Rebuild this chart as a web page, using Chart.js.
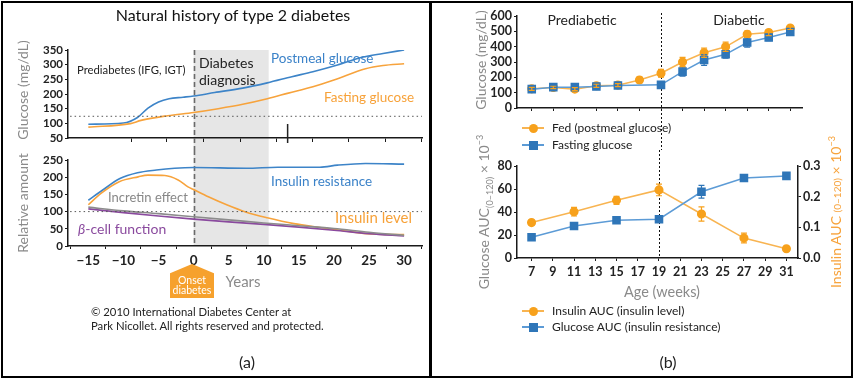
<!DOCTYPE html>
<html><head><meta charset="utf-8">
<script src="https://cdn.jsdelivr.net/npm/chart.js@4.4.1/dist/chart.umd.min.js"></script>
<style>
body{margin:0;width:857px;height:379px;position:relative;background:#fff;font-family:Lato,"Open Sans",sans-serif;overflow:hidden;color:#222}
canvas{position:absolute}
.t{position:absolute;white-space:nowrap;line-height:1}
.c{transform:translate(-50%,-50%)}
.l{transform:translateY(-50%)}
.r{transform:translate(-50%,-50%) rotate(-90deg)}
.box{position:absolute;border:2px solid #000;box-sizing:border-box}
sub,sup{font-size:65%;line-height:0}
</style></head><body>
<div class="box" style="left:1px;top:1px;width:430px;height:377px"></div>
<div class="box" style="left:430px;top:1px;width:423px;height:377px"></div>

<canvas id="cA1" width="430" height="150" style="left:0;top:0"></canvas>
<canvas id="cA2" width="430" height="120" style="left:0;top:150px"></canvas>
<canvas id="cB1" width="426" height="150" style="left:431px;top:0"></canvas>
<canvas id="cB2" width="426" height="135" style="left:431px;top:150px"></canvas>

<!-- Panel (a) texts -->
<div class="t c" style="left:233px;top:15px;font-size:16px;color:#111">Natural history of type 2 diabetes</div>
<div class="t r" style="left:23px;top:90px;font-size:14px;color:#8a8a8a">Glucose (mg/dL)</div>
<div class="t r" style="left:23px;top:203px;font-size:14px;color:#8a8a8a">Relative amount</div>
<div class="t l" style="left:77px;top:70px;font-size:11.3px;color:#222">Prediabetes (IFG, IGT)</div>
<div class="t l" style="left:199px;top:63px;font-size:14px;color:#222">Diabetes</div>
<div class="t l" style="left:199px;top:80px;font-size:14px;color:#222">diagnosis</div>
<div class="t l" style="left:271px;top:59px;font-size:13.5px;color:#3b82c8">Postmeal glucose</div>
<div class="t l" style="left:324px;top:98px;font-size:13.5px;color:#f7a23a">Fasting glucose</div>
<div class="t l" style="left:271px;top:182px;font-size:13.5px;color:#3b82c8">Insulin resistance</div>
<div class="t l" style="left:108px;top:197px;font-size:13px;color:#888">Incretin effect</div>
<div class="t l" style="left:335px;top:217px;font-size:15px;color:#f7a23a">Insulin level</div>
<div class="t l" style="left:78px;top:229px;font-size:14px;color:#8a4a9e"><i>β</i>-cell function</div>
<div style="position:absolute;left:170px;top:264px;width:44px;height:34px;background:#f6a12d;clip-path:polygon(50% 0,100% 27%,100% 100%,0 100%,0 27%)"></div>
<div class="t c" style="left:192px;top:280px;font-size:10.5px;color:#fff">Onset</div>
<div class="t c" style="left:192px;top:290px;font-size:10.5px;color:#fff">diabetes</div>
<div class="t c" style="left:243px;top:281px;font-size:15px;color:#8a8a8a">Years</div>
<div class="t l" style="left:91px;top:312px;font-size:11.3px;color:#222">© 2010 International Diabetes Center at</div>
<div class="t l" style="left:91px;top:326px;font-size:11.3px;color:#222">Park Nicollet. All rights reserved and protected.</div>
<div class="t c" style="left:247px;top:362px;font-size:16px;color:#222">(a)</div>

<!-- Panel (b) texts -->
<div class="t c" style="left:582px;top:20px;font-size:14px;color:#222">Prediabetic</div>
<div class="t c" style="left:739px;top:20px;font-size:14px;color:#222">Diabetic</div>
<div class="t r" style="left:481px;top:60px;font-size:14px;color:#8a8a8a">Glucose (mg/dL)</div>
<div class="t r" style="left:484px;top:212px;font-size:14px;color:#8a8a8a">Glucose AUC<sub>(0–120)</sub> × 10<sup>−3</sup></div>
<div class="t r" style="left:836px;top:212px;font-size:14px;color:#f7a23a">Insulin AUC <span style="font-size:10px">(0–120)</span> × 10<sup>−3</sup></div>
<div class="t c" style="left:662px;top:292px;font-size:14.5px;color:#8a8a8a">Age (weeks)</div>
<div class="t c" style="left:668px;top:362px;font-size:16px;color:#222">(b)</div>
<div id="legends"></div>

<script>
// ---------- DATA ----------
// Panel (a) top: glucose (mg/dL) vs years from diagnosis
const yearsPostmeal   = [-15, -10, -8, -6.5, -5, -3.5, -1.5, 0, 3, 7, 10.5, 14, 17, 20.5, 24, 27, 30];
const postmealGlucose = [97, 101, 120, 152, 173, 184, 189, 193, 205, 220, 238, 259, 276, 299, 325, 338, 350];
const yearsFasting    = [-15, -9, -7.5, -3.7, 0, 3.5, 7, 10.5, 13.5, 17, 20, 24.5, 27, 30];
const fastingGlucose  = [87, 99, 110, 126, 137, 150, 165, 184, 203, 225, 248, 286, 297, 303];
const glucoseThreshold = 124;
// Panel (a) bottom: relative amount
const yearsResistance = [-15, -13, -10.5, -8, -5.3, -2.7, 0, 7.5, 12, 18, 20.5, 24.5, 30];
const insulinResistance = [133, 162, 196, 213, 221, 226, 228, 226, 229, 229, 235, 240, 238];
const yearsInsulin    = [-15, -13.2, -10.6, -7.9, -6.5, -4.1, -2.2, -0.8, 0, 2.1, 4.8, 7.4, 10.5, 14.3, 18, 20.9, 24.7, 30];
const insulinLevel    = [120, 153, 187, 201, 206, 205, 192, 172, 164, 143, 119, 99, 82, 65, 54, 46, 36, 33];
const yearsDecline    = [-15, -10, -5, 0, 5, 10, 15, 20, 25, 30];
const incretinEffect  = [113, 102, 94, 85, 76, 67, 59, 51, 40, 31];
const betaCellFunction = [108, 97, 87, 78, 70, 63, 55, 46, 36, 29];
const relativeReference = 100;
const diagnosisStart = 0, diagnosisEnd = 10.7;
const yearLabels = [-15, -10, -5, 0, 5, 10, 15, 20, 25, 30];
const yearMinorTicks = [-17.5, -12.5, -7.5, -2.5, 2.5, 7.5, 12.5, 17.5, 22.5, 27.5, 32.5];
const yearTopTicks = [-8.9, -3.8, 1.4, 6.7, 11.8, 17, 22.1, 27.3, 32.5];
const markerYear = 13.4, markerTop = 98, markerBottom = 33;

// Panel (b) top: glucose vs age (weeks)
const weeksFed      = [7, 9, 11, 13, 15, 17, 19, 21, 23, 25, 27, 29, 31];
const fedGlucose    = [125, 134, 123, 145, 149, 183, 227, 300, 360, 399, 481, 492, 522];
const fedErr        = [10, 8, 10, 10, 10, 18, 25, 30, 30, 30, 20, 20, 10];
const weeksFasting  = [7, 9, 11, 13, 15, 19, 21, 23, 25, 27, 29, 31];
const fastingGlucoseB = [123, 136, 136, 140, 147, 151, 237, 313, 350, 427, 460, 496];
const fastingErr    = [8, 7, 7, 7, 7, 10, 30, 35, 25, 30, 20, 10];
// Panel (b) bottom: AUC
const weeksAUC      = [7, 11, 15, 19, 23, 27, 31];
const insulinAUC    = [0.1155, 0.151, 0.188, 0.222, 0.1435, 0.065, 0.030];
const insulinAUCErr = [0.004, 0.014, 0.013, 0.019, 0.023, 0.016, 0.004];
const glucoseAUC    = [18.1, 27.9, 32.8, 33.7, 57.6, 69.6, 71.4];
const glucoseAUCErr = [1.2, 1.5, 1.8, 2.5, 5.5, 3, 2.2];
const weekTicks = [7, 9, 11, 13, 15, 17, 19, 21, 23, 25, 27, 29, 31];
const onsetWeek = 19;

// ---------- STYLE ----------
const FONT = 'Lato, "Open Sans", sans-serif';
const BLUE = '#3d84c8', ORANGE = '#f7a33c', PURPLE = '#8a4a9e', GREYLINE = '#8c8c8c';
const BBLUE_LINE = '#5c9bd6', BBLUE = '#2f76b8', BORANGE_LINE = '#f8b451', BORANGE = '#f7a11c';
const AX = '#1a1a1a';
Chart.defaults.font.family = FONT;
Chart.defaults.animation = false;

const zip = (xs, ys) => xs.map((x, i) => ({x, y: ys[i]}));

const bandPlugin = {
  id: 'band',
  beforeDraw(chart, args, o) {
    if (o.from === undefined) return;
    const xs = chart.scales.x, ctx = chart.ctx, ca = chart.chartArea;
    const x0 = xs.getPixelForValue(o.from), x1 = xs.getPixelForValue(o.to);
    const top = o.extendTop ? 0 : ca.top, bottom = o.extendBottom ? chart.height : ca.bottom;
    ctx.save(); ctx.fillStyle = o.color; ctx.fillRect(x0, top, x1 - x0, bottom - top); ctx.restore();
  }
};
const vlinePlugin = {
  id: 'vline',
  beforeDatasetsDraw(chart, args, o) {
    if (o.at === undefined) return;
    const ctx = chart.ctx, ca = chart.chartArea;
    const x = Math.round(chart.scales.x.getPixelForValue(o.at)) + 0.5;
    const top = o.extendTop ? 0 : ca.top - (o.over || 0), bottom = o.extendBottom ? chart.height : ca.bottom;
    ctx.save(); ctx.strokeStyle = o.color; ctx.lineWidth = o.width; ctx.setLineDash(o.dash);
    ctx.beginPath(); ctx.moveTo(x, top); ctx.lineTo(x, bottom); ctx.stroke(); ctx.restore();
  }
};
const errPlugin = {
  id: 'errbars',
  afterDatasetsDraw(chart) {
    const ctx = chart.ctx;
    chart.data.datasets.forEach((ds, i) => {
      if (!ds.errorBars) return;
      const meta = chart.getDatasetMeta(i), ys = chart.scales[meta.yAxisID];
      ctx.save(); ctx.strokeStyle = ds.pointBackgroundColor; ctx.lineWidth = 1.2;
      meta.data.forEach((pt, j) => {
        const v = ds.data[j].y, e = ds.errorBars[j];
        const yt = ys.getPixelForValue(v + e), yb = ys.getPixelForValue(v - e), x = pt.x;
        ctx.beginPath();
        ctx.moveTo(x, yt); ctx.lineTo(x, yb);
        ctx.moveTo(x - 3, yt); ctx.lineTo(x + 3, yt);
        ctx.moveTo(x - 3, yb); ctx.lineTo(x + 3, yb);
        ctx.stroke();
      });
      ctx.restore();
    });
  }
};

function axis(extra) {
  const base = {
    grid: {drawOnChartArea: false, drawTicks: true, tickLength: 3, color: AX, lineWidth: 1},
    border: {display: true, color: AX, width: 1.5},
    ticks: {color: '#222', font: {size: 11.5, weight: 'bold'}, padding: 2, autoSkip: false, maxRotation: 0}
  };
  return Chart.helpers.merge(base, extra);
}
const noLegend = {legend: {display: false}, tooltip: {enabled: false}};
const curve = (data, color, w) => ({data, borderColor: color, borderWidth: w || 1.6, pointRadius: 0, cubicInterpolationMode: 'monotone', fill: false});

const xMinA = -17.9, xMaxA = 32.55;

// ---------- (a) top ----------
new Chart(document.getElementById('cA1'), {
  type: 'line',
  data: {datasets: [
    {data: [{x: xMinA + 0.3, y: glucoseThreshold}, {x: xMaxA, y: glucoseThreshold}], borderColor: '#555', borderWidth: 1, borderDash: [1.5, 3], pointRadius: 0},
    curve(zip(yearsFasting, fastingGlucose), ORANGE),
    curve(zip(yearsPostmeal, postmealGlucose), BLUE),
    {data: [{x: markerYear, y: markerTop}, {x: markerYear, y: markerBottom}], borderColor: '#222', borderWidth: 1.5, pointRadius: 0, clip: false}
  ]},
  options: {
    responsive: false,
    layout: {padding: {top: 50, right: 8, left: 0, bottom: 0}},
    plugins: {...noLegend,
      band: {from: diagnosisStart, to: diagnosisEnd, color: '#e6e6e6', extendBottom: true},
      vline: {at: diagnosisStart, color: '#6a6a6a', width: 1.6, dash: [5, 3], extendBottom: true}},
    scales: {
      x: axis({type: 'linear', min: xMinA, max: xMaxA,
        afterBuildTicks: s => { s.ticks = yearTopTicks.map(v => ({value: v})); },
        afterFit: s => { s.height = 12; },
        grid: {tickLength: 4}, ticks: {callback: () => ''}}),
      y: axis({min: 50, max: 350, ticks: {stepSize: 50}, afterFit: s => { s.width = 68; }})
    }
  },
  plugins: [bandPlugin, vlinePlugin]
});

// ---------- (a) bottom ----------
new Chart(document.getElementById('cA2'), {
  type: 'line',
  data: {datasets: [
    {data: [{x: xMinA + 0.3, y: relativeReference}, {x: xMaxA, y: relativeReference}], borderColor: '#555', borderWidth: 1, borderDash: [1.5, 3], pointRadius: 0},
    curve(zip(yearsDecline, incretinEffect), GREYLINE),
    curve(zip(yearsDecline, betaCellFunction), PURPLE),
    curve(zip(yearsInsulin, insulinLevel), ORANGE),
    curve(zip(yearsResistance, insulinResistance), BLUE)
  ]},
  options: {
    responsive: false,
    layout: {padding: {top: 10, right: 8, left: 0, bottom: 0}},
    plugins: {...noLegend,
      band: {from: diagnosisStart, to: diagnosisEnd, color: '#e6e6e6', extendTop: true},
      vline: {at: diagnosisStart, color: '#6a6a6a', width: 1.6, dash: [5, 3], extendTop: true}},
    scales: {
      x: axis({type: 'linear', min: xMinA, max: xMaxA,
        afterBuildTicks: s => { s.ticks = yearLabels.concat(yearMinorTicks).sort((a, b) => a - b).map(v => ({value: v})); },
        afterFit: s => { s.height = 24; },
        grid: {tickLength: 3, tickColor: c => (c.tick && yearLabels.includes(c.tick.value)) ? 'rgba(0,0,0,0)' : AX},
        ticks: {font: {size: 13.5, weight: 'bold'}, padding: 4,
          callback: v => yearLabels.includes(v) ? (v < 0 ? '\u2212' + Math.abs(v) : String(v)) : ''}}),
      y: axis({min: 0, max: 250, ticks: {stepSize: 50}, afterFit: s => { s.width = 68; }})
    }
  },
  plugins: [bandPlugin, vlinePlugin]
});

// ---------- (b) top ----------
const xMinB = 5.63, xMaxB = 32.09;
const marker = (data, line, fill, style, r, errs) => ({data, borderColor: line, borderWidth: 1.5, pointBackgroundColor: fill, pointBorderColor: fill, pointStyle: style, pointRadius: r, tension: 0, errorBars: errs});
new Chart(document.getElementById('cB1'), {
  type: 'line',
  data: {datasets: [
    marker(zip(weeksFasting, fastingGlucoseB), BBLUE_LINE, BBLUE, 'rect', 5, fastingErr),
    marker(zip(weeksFed, fedGlucose), BORANGE_LINE, BORANGE, 'circle', 3.8, fedErr)
  ]},
  options: {
    responsive: false,
    layout: {padding: {top: 16, right: 55, left: 0, bottom: 0}},
    plugins: {...noLegend, vline: {at: onsetWeek, color: '#111', width: 1, dash: [2, 2], extendBottom: true, over: 3}},
    scales: {
      x: axis({type: 'linear', min: xMinB, max: xMaxB,
        afterBuildTicks: s => { s.ticks = weekTicks.map(v => ({value: v})); },
        afterFit: s => { s.height = 42; },
        grid: {tickLength: 3}, ticks: {callback: () => ''}}),
      y: axis({min: 0, max: 600, ticks: {stepSize: 100, font: {size: 12.5, weight: 'bold'}}, afterFit: s => { s.width = 86; }})
    }
  },
  plugins: [vlinePlugin, errPlugin]
});

// ---------- (b) bottom ----------
new Chart(document.getElementById('cB2'), {
  type: 'line',
  data: {datasets: [
    Object.assign(marker(zip(weeksAUC, glucoseAUC), BBLUE_LINE, BBLUE, 'rect', 5, glucoseAUCErr), {yAxisID: 'y'}),
    Object.assign(marker(zip(weeksAUC, insulinAUC), BORANGE_LINE, BORANGE, 'circle', 3.8, insulinAUCErr), {yAxisID: 'y2'})
  ]},
  options: {
    responsive: false,
    layout: {padding: {top: 16, right: 0, left: 0, bottom: 0}},
    plugins: {...noLegend, vline: {at: onsetWeek, color: '#111', width: 1, dash: [2, 2], extendTop: true}},
    scales: {
      x: axis({type: 'linear', min: xMinB, max: xMaxB,
        afterBuildTicks: s => { s.ticks = weekTicks.map(v => ({value: v})); },
        afterFit: s => { s.height = 27; },
        ticks: {font: {size: 12.5, weight: 'bold'}, padding: 3, callback: v => String(v)}}),
      y: axis({position: 'left', min: 0, max: 80, ticks: {stepSize: 20, font: {size: 12.5, weight: 'bold'}}, afterFit: s => { s.width = 86; }}),
      y2: axis({position: 'right', min: 0, max: 0.3, ticks: {stepSize: 0.1, font: {size: 12.5, weight: 'bold'}, callback: v => v.toFixed(1)}, afterFit: s => { s.width = 59; }})
    }
  },
  plugins: [vlinePlugin, errPlugin]
});

// ---------- legends (b) ----------
const legendItems = [
  {y: 128, line: BORANGE_LINE, fill: BORANGE, shape: 'circle', text: 'Fed (postmeal glucose)'},
  {y: 145, line: BBLUE_LINE, fill: BBLUE, shape: 'square', text: 'Fasting glucose'},
  {y: 311, line: BORANGE_LINE, fill: BORANGE, shape: 'circle', text: 'Insulin AUC (insulin level)'},
  {y: 327, line: BBLUE_LINE, fill: BBLUE, shape: 'square', text: 'Glucose AUC (insulin resistance)'}
];
const lg = document.getElementById('legends');
legendItems.forEach(it => {
  const ln = document.createElement('div');
  ln.style.cssText = `position:absolute;left:522px;top:${it.y - 1}px;width:22px;height:2px;background:${it.line}`;
  const mk = document.createElement('div');
  const sz = 9;
  mk.style.cssText = `position:absolute;left:${533 - sz / 2}px;top:${it.y - sz / 2}px;width:${sz}px;height:${sz}px;background:${it.fill};${it.shape === 'circle' ? 'border-radius:50%' : ''}`;
  const tx = document.createElement('div');
  tx.className = 't l';
  tx.style.cssText = `left:552px;top:${it.y}px;font-size:12px;color:#222`;
  tx.textContent = it.text;
  lg.append(ln, mk, tx);
});
</script>
</body></html>
